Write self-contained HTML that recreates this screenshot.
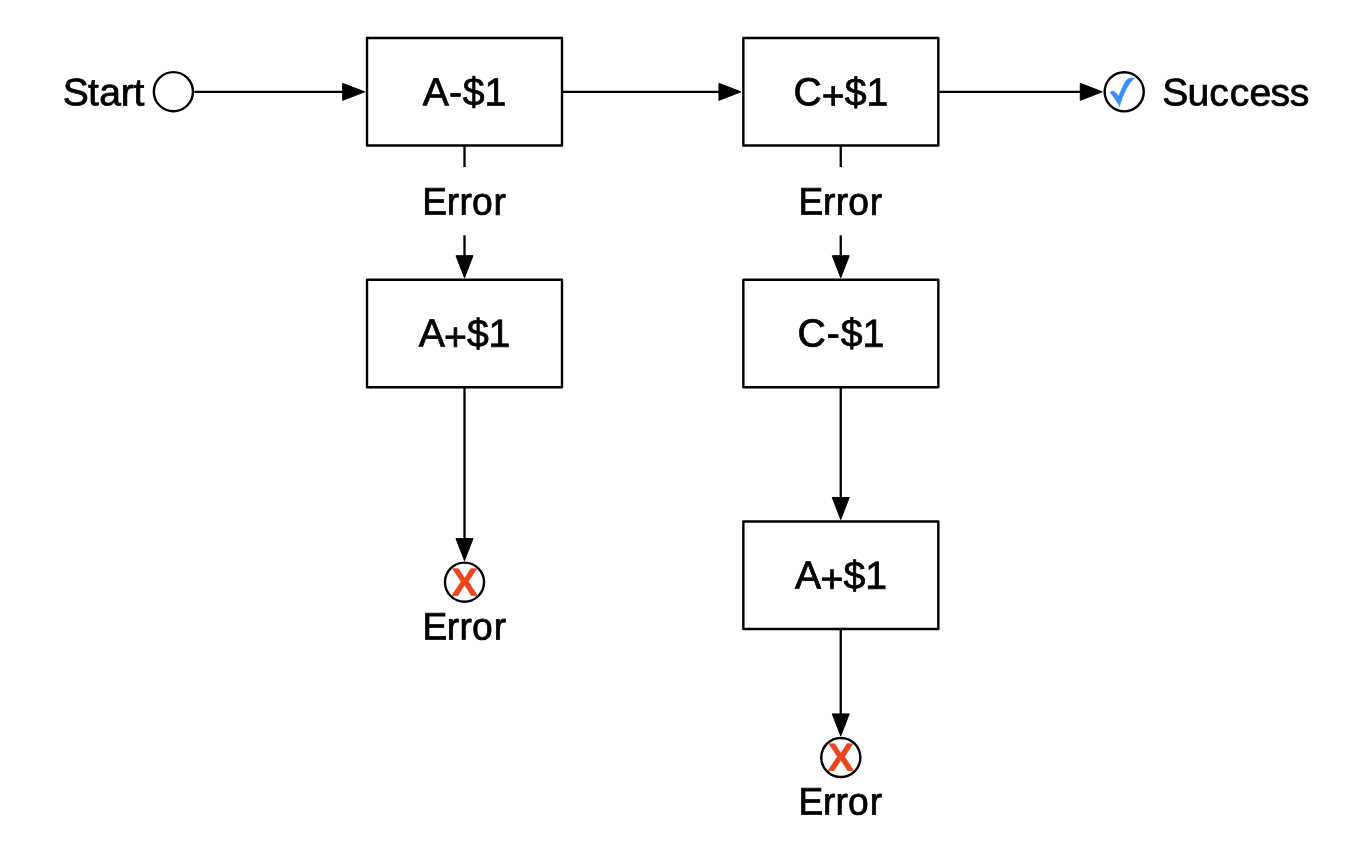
<!DOCTYPE html>
<html>
<head>
<meta charset="utf-8">
<title>Flow diagram</title>
<style>
html,body{margin:0;padding:0;background:#fff;}
body{width:1370px;height:858px;overflow:hidden;}
svg{display:block;will-change:transform;}
text{font-family:"Liberation Sans",sans-serif;fill:#000;stroke:#000;stroke-width:0.75px;}
.wd{font-size:38.3px;}
.lb{font-size:39.2px;}
.ck{fill:#398ff7;stroke:#398ff7;stroke-width:0.3;}
.bx{fill:#fff;stroke:#000;stroke-width:2.4;stroke-linejoin:round;}
.ln{stroke:#000;stroke-width:2.3;fill:none;stroke-linecap:butt;}
.ah{fill:#000;stroke:#000;stroke-width:1;stroke-linejoin:miter;}
.ci{fill:#fff;stroke:#000;stroke-width:2.4;}
text.x{font-size:39.2px;font-weight:bold;fill:#ec441b;stroke:#ec441b;stroke-width:0.4px;}
</style>
</head>
<body>
<svg width="1370" height="858" viewBox="0 0 1370 858">
<rect width="1370" height="858" fill="#fff"/>

<!-- boxes -->
<rect class="bx" x="367" y="38" width="195" height="107.5"/>
<rect class="bx" x="743.35" y="38" width="195" height="107.5"/>
<rect class="bx" x="367" y="279.75" width="195" height="107.5"/>
<rect class="bx" x="743.35" y="279.75" width="195" height="107.5"/>
<rect class="bx" x="743.35" y="521.5" width="195" height="107.5"/>
<!-- start -->
<text class="wd" transform="rotate(0.04 64.5 105.35) scale(1.02,1)" x="61.63 86.36 97.39 118.38 130.92" y="105.35">Start</text>
<circle class="ci" cx="173.4" cy="91.65" r="19.55"/>
<line class="ln" x1="194.2" y1="91.85" x2="343.70" y2="91.85"/>
<polygon class="ah" points="342.70,83.35 364.70,91.85 342.70,100.35"/>
<!-- A-$1 to C+$1 -->
<line class="ln" x1="563" y1="91.85" x2="719.95" y2="91.85"/>
<polygon class="ah" points="718.95,83.35 740.95,91.85 718.95,100.35"/>
<!-- C+$1 to success -->
<line class="ln" x1="939.25" y1="91.85" x2="1081.30" y2="91.85"/>
<polygon class="ah" points="1080.30,83.35 1102.30,91.85 1080.30,100.35"/>
<circle class="ci" cx="1124.2" cy="91.8" r="19.55"/>
<path class="ck" d="M1109.8,92.6 C1110.8,91.4 1112.6,90.4 1114.2,91.4 C1115.8,92.4 1117.3,94.2 1118.7,96.0 C1120.0,92.5 1121.2,89.5 1122.4,87.0 C1124.5,82.6 1126.3,79.9 1128.5,78.6 C1130,77.9 1132,78.0 1134.7,78.1 C1132.8,79.9 1131.2,81.6 1129.65,83.7 C1127.8,86.2 1126.4,88.9 1125.2,91.5 C1123.0,96.2 1121.0,101.8 1119.5,106.6 C1118.5,104.6 1117.4,102.8 1116.2,101.0 C1114.5,98.3 1112.3,95.3 1109.8,92.6 Z"/>
<text class="wd" transform="rotate(0.04 1163.8 105.35) scale(1.02,1)" x="1139.42 1164.23 1185.47 1205.62 1224.96 1245.58 1264.40" y="105.35">Success</text>
<!-- error branch -->
<line class="ln" x1="464.5" y1="146" x2="464.5" y2="167.1"/>
<text class="wd" transform="rotate(0.04 425.8 214.6) scale(0.97,1)" x="435.42 460.53 473.62 486.48 508.82" y="214.6">Error</text>
<line class="ln" x1="464.5" y1="235.3" x2="464.5" y2="256.70"/>
<polygon class="ah" points="456.00,255.70 464.50,277.70 473.00,255.70"/>
<!-- error branch -->
<line class="ln" x1="840.75" y1="146" x2="840.75" y2="167.1"/>
<text class="wd" transform="rotate(0.04 802.0 214.6) scale(0.97,1)" x="823.30 848.41 861.50 874.37 896.71" y="214.6">Error</text>
<line class="ln" x1="840.75" y1="235.3" x2="840.75" y2="256.70"/>
<polygon class="ah" points="832.25,255.70 840.75,277.70 849.25,255.70"/>
<!-- A+$1 to error -->
<line class="ln" x1="464.5" y1="388" x2="464.5" y2="539.60"/>
<polygon class="ah" points="456.00,538.60 464.50,560.60 473.00,538.60"/>
<circle class="ci" cx="464.5" cy="582.2" r="19.55"/>
<text class="x" transform="rotate(0.04 451.3 595.8) scale(1.02,1)" x="442.32" y="595.8">X</text>
<text class="wd" transform="rotate(0.04 425.9 639.4) scale(0.97,1)" x="435.52 460.63 473.72 486.58 508.93" y="639.4">Error</text>
<!-- C-$1 to A+$1 -->
<line class="ln" x1="840.75" y1="388" x2="840.75" y2="498.50"/>
<polygon class="ah" points="832.25,497.50 840.75,519.50 849.25,497.50"/>
<!-- A+$1 to error -->
<line class="ln" x1="840.75" y1="630" x2="840.75" y2="714.90"/>
<polygon class="ah" points="832.25,713.90 840.75,735.90 849.25,713.90"/>
<circle class="ci" cx="840.8" cy="757.5" r="19.55"/>
<text class="x" transform="rotate(0.04 827.6 770.8) scale(1.02,1)" x="811.24" y="770.8">X</text>
<text class="wd" transform="rotate(0.04 802.0 814.4) scale(0.97,1)" x="823.25 848.36 861.45 874.32 896.66" y="814.4">Error</text>
<!-- box labels -->
<text class="lb" transform="rotate(0.04 422.9 105.35)" x="422.84 449.00 462.75 484.64" y="105.35 105.35 105.35 105.35">A-$1</text>
<text class="lb" transform="rotate(0.04 795.5 105.35)" x="793.57 821.81 844.65 866.54" y="105.35 108.90 105.35 105.35">C+$1</text>
<text class="lb" transform="rotate(0.04 418.8 346.6)" x="418.64 444.01 466.90 488.64" y="346.60 350.15 346.60 346.60">A+$1</text>
<text class="lb" transform="rotate(0.04 799.5 346.6)" x="797.47 826.75 840.70 862.54" y="346.60 346.60 346.60 346.60">C-$1</text>
<text class="lb" transform="rotate(0.04 795.1 588.6)" x="794.99 820.56 843.50 865.34" y="588.60 592.15 588.60 588.60">A+$1</text>
</svg>
</body>
</html>
